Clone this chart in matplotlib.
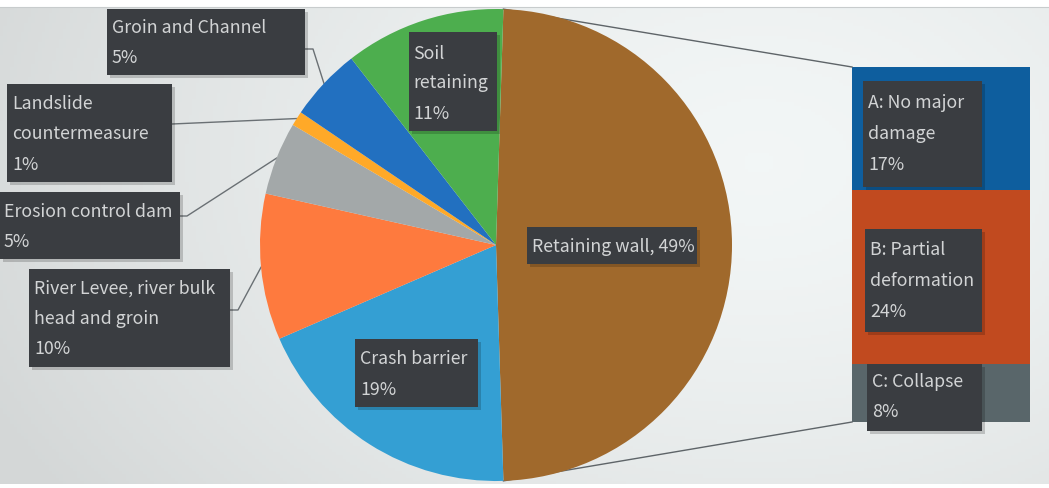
import numpy as np
import matplotlib
matplotlib.use("Agg")
import matplotlib.pyplot as plt
from matplotlib.patches import Rectangle

plt.rcParams['font.family'] = ['Noto Sans CJK JP', 'DejaVu Sans']

# ---- data ----
pie_labels = ["Retaining wall", "Crash barrier", "River Levee, river bulk\nhead and groin",
              "Erosion control dam", "Landslide\ncountermeasure", "Groin and Channel",
              "Soil\nretaining"]
pie_values = [49, 19, 10, 5, 1, 5, 11]
pie_colors = ["#A0692C", "#349FD3", "#FE7A3E", "#A3A8A9", "#FFA928", "#2270C0", "#4DAE4E"]

bar_labels = ["C: Collapse", "B: Partial\ndeformation", "A: No major\ndamage"]
bar_values = [8, 24, 17]
bar_colors = ["#59666A", "#C14A1F", "#0E5E9E"]

W, H = 1049, 489
fig = plt.figure(figsize=(W / 100, H / 100), dpi=100)
fig.patch.set_facecolor("white")

def Y(y):  # image y -> data y
    return H - y

# background axes
bg = fig.add_axes([0, 0, 1, 1], zorder=0)
bg.set_xlim(0, W)
bg.set_ylim(0, H)
bg.axis("off")
gx, gy = np.meshgrid(np.linspace(0, W, 300), np.linspace(H, 0, 150))
d = np.sqrt(((gx - 760) / 700) ** 2 + ((gy - 330) / 500) ** 2)
shade = 0.965 - 0.09 * np.clip(d, 0, 1.2) ** 1.5
img = np.dstack([shade * 0.985, shade, shade])
bg.imshow(img, extent=(0, W, Y(485), Y(8)), origin="upper", aspect="auto", zorder=0)
bg.plot([0, W], [Y(8), Y(8)], color="#C8CCCD", lw=0.8, zorder=1)

# bar axes
bx0, bx1, by0, by1 = 852, 1030, 68, 423
bax = fig.add_axes([bx0 / W, (H - by1) / H, (bx1 - bx0) / W, (by1 - by0) / H], zorder=1)
bottom = 0
for v, c in zip(bar_values, bar_colors):
    bax.bar(0, v, bottom=bottom, width=1, color=c, linewidth=0)
    bottom += v
bax.set_xlim(-0.5, 0.5)
bax.set_ylim(0, sum(bar_values))
bax.axis("off")

# main axes
ax = fig.add_axes([0, 0, 1, 1], zorder=2)
ax.patch.set_visible(False)

cx, cy, R = 496, Y(246), 236
start = pie_values[0] / sum(pie_values) * 360 / 2
wedges, _ = ax.pie(pie_values, colors=pie_colors, startangle=start, counterclock=False,
                   center=(cx, cy), radius=R, frame=True,
                   wedgeprops=dict(linewidth=0))
for w in wedges:
    w.set_zorder(2)
ax.set_xlim(0, W)
ax.set_ylim(0, H)
ax.set_aspect("auto")
ax.axis("off")

def wedge_pt(i, frac=0.5):
    w = wedges[i]
    a = np.deg2rad(w.theta1 + (w.theta2 - w.theta1) * frac)
    return cx + R * np.cos(a), cy + R * np.sin(a)

# connector lines
w0 = wedges[0]
pts = [(cx + R * np.cos(np.deg2rad(t)), cy + R * np.sin(np.deg2rad(t))) for t in (w0.theta1, w0.theta2)]
pts.sort(key=lambda p: -p[1])
ax.plot([pts[0][0], bx0], [pts[0][1], Y(by0)], color="#5E6468", lw=1.0, zorder=1)
ax.plot([pts[1][0], bx0], [pts[1][1], Y(by1)], color="#5E6468", lw=1.0, zorder=1)

BOX = "#3A3D41"
TXT = "#D2D4D5"
FS = 12.8

def label(box, x, ys, lines, z=5):
    x0, y0, x1, y1 = box
    ax.add_patch(Rectangle((x0 + 3, Y(y1) - 3), x1 - x0, y1 - y0, color="#000000",
                           alpha=0.18, lw=0, zorder=z - 0.5))
    ax.add_patch(Rectangle((x0, Y(y1)), x1 - x0, y1 - y0, color=BOX, lw=0, zorder=z))
    for yy, t in zip(ys, lines):
        ax.text(x, Y(yy), t, color=TXT, fontsize=FS, ha="left", va="center", zorder=z + 1)

pct = [f"{v}%" for v in pie_values]
bpct = [f"{v}%" for v in bar_values]

# pie labels
label((107, 10, 305, 76), 112, [28, 58], [pie_labels[5], pct[5]])
label((7, 85, 172, 183), 12, [104, 134, 165], pie_labels[4].split("\n") + [pct[4]])
label((0, 193, 180, 260), 4, [212, 242], [pie_labels[3], pct[3]])
label((29, 270, 230, 368), 34, [289, 319, 349], pie_labels[2].split("\n") + [pct[2]])
label((355, 340, 478, 408), 360, [359, 390], [pie_labels[1], pct[1]])
label((409, 33, 497, 132), 413, [54, 83, 114], pie_labels[6].split("\n") + [pct[6]])
label((527, 228, 697, 265), 532, [247], [f"{pie_labels[0]}, {pct[0]}"])

# bar labels
label((863, 82, 982, 188), 868, [103, 134, 165], bar_labels[2].split("\n") + [bpct[2]])
label((865, 230, 982, 333), 870, [250, 281, 312], bar_labels[1].split("\n") + [bpct[1]])
label((867, 365, 982, 432), 872, [382, 412], bar_labels[0].split("\n") + [bpct[0]])

# leader lines
LC = "#6A7074"
def leader(path, i):
    px, py = wedge_pt(i)
    xs = [p[0] for p in path] + [px]
    ys = [Y(p[1]) for p in path] + [py]
    ax.plot(xs, ys, color=LC, lw=1.0, zorder=1.5)

leader([(305, 50), (313, 50)], 5)
leader([(172, 125)], 4)
leader([(180, 217), (187, 217)], 3)
leader([(230, 311), (238, 311)], 2)

fig.savefig("out.png", dpi=100, facecolor="white")
